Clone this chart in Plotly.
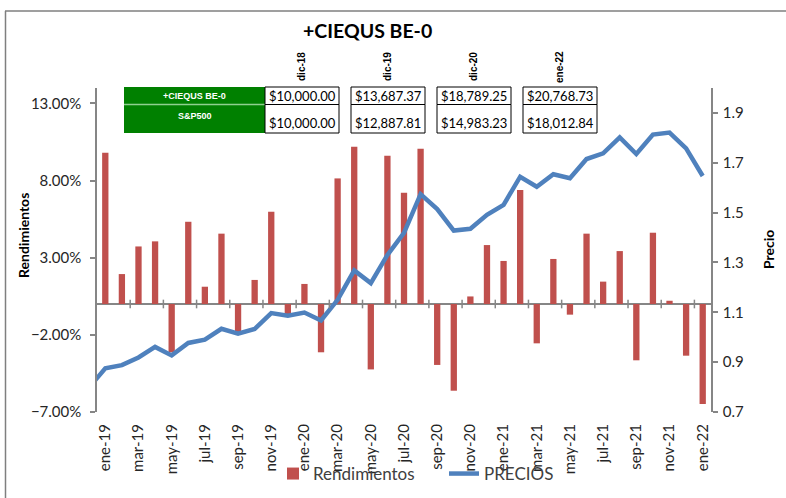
import plotly.graph_objects as go

# ---------------- data ----------------
months = ["ene-19", "feb-19", "mar-19", "abr-19", "may-19", "jun-19", "jul-19", "ago-19",
          "sep-19", "oct-19", "nov-19", "dic-19", "ene-20", "feb-20", "mar-20", "abr-20",
          "may-20", "jun-20", "jul-20", "ago-20", "sep-20", "oct-20", "nov-20", "dic-20",
          "ene-21", "feb-21", "mar-21", "abr-21", "may-21", "jun-21", "jul-21", "ago-21",
          "sep-21", "oct-21", "nov-21", "dic-21", "ene-22"]

rendimientos = [0.0980, 0.0194, 0.0373, 0.0406, -0.0313, 0.0533, 0.0112, 0.0456,
                -0.0184, 0.0156, 0.0598, -0.0065, 0.0130, -0.0313, 0.0814, 0.1020,
                -0.0424, 0.0961, 0.0721, 0.1006, -0.0395, -0.0562, 0.0049, 0.0382,
                0.0279, 0.0739, -0.0255, 0.0292, -0.0069, 0.0456, 0.0145, 0.0343,
                -0.0365, 0.0462, 0.0021, -0.0335, -0.0648]

precio_base_label = "dic-18"
precio_base = 0.797
precios = [0.875, 0.888, 0.919, 0.961, 0.927, 0.977, 0.990, 1.034,
           1.014, 1.033, 1.097, 1.086, 1.099, 1.067, 1.150, 1.268,
           1.217, 1.330, 1.419, 1.574, 1.514, 1.428, 1.435, 1.491,
           1.531, 1.644, 1.604, 1.654, 1.638, 1.715, 1.738, 1.802,
           1.735, 1.813, 1.821, 1.758, 1.647]

left_ticks = [-0.07, -0.02, 0.03, 0.08, 0.13]
right_ticks = [0.7, 0.9, 1.1, 1.3, 1.5, 1.7, 1.9]

table_headers = ["dic-18", "dic-19", "dic-20", "ene-22"]
table_rows = ["+CIEQUS BE-0", "S&P500"]
ciequs_vals = [10000.00, 13687.37, 18789.25, 20768.73]
sp500_vals = [10000.00, 12887.81, 14983.23, 18012.84]

# ---------------- layout geometry ----------------
W, H = 786, 498
L, R, T, B = 97, 75, 88, 86
PW, PH = W - L - R, H - T - B


def fx(p):
    return (p - L) / PW


def fy(p):
    return (H - B - p) / PH


def note(text, px, py, size, family="Lato", color="black", angle=0):
    return dict(text=text, xref="paper", yref="paper", x=fx(px), y=fy(py),
                xanchor="center", yanchor="middle", showarrow=False, textangle=angle,
                font=dict(family=family, size=size, color=color))


x_idx = list(range(len(months)))
tick_idx = x_idx[::2]
tick_txt = months[::2]

fig = go.Figure()
fig.add_trace(go.Bar(x=x_idx, y=rendimientos, name="Rendimientos",
                     marker=dict(color="#C0504D", line=dict(width=0))))
fig.add_trace(go.Scatter(x=[-1] + x_idx, y=[precio_base] + precios, name="PRECIOS",
                         yaxis="y2", mode="lines",
                         line=dict(color="#4F81BD", width=4.5)))

axis_gray = "#868686"
tick_font = dict(family="Lato", size=15, color="#262626")

fig.update_layout(
    width=W, height=H,
    margin=dict(l=L, r=R, t=T, b=B, pad=0, autoexpand=False),
    paper_bgcolor="white", plot_bgcolor="white",
    bargap=0.62,
    showlegend=True,
    legend=dict(orientation="h", x=fx(273), y=fy(474), xanchor="left", yanchor="middle",
                font=dict(family="Lato", size=17, color="#404040"),
                bgcolor="rgba(0,0,0,0)", itemwidth=30, tracegroupgap=0,
                entrywidth=126, entrywidthmode="pixels"),
    xaxis=dict(range=[-0.5, len(months) - 0.5], tickmode="array", tickvals=tick_idx,
               ticktext=tick_txt, tickangle=-90, showline=False, showgrid=False,
               zeroline=False, ticks="", tickfont=tick_font, ticklabelstandoff=8,
               automargin=False),
    yaxis=dict(range=[-0.07, 0.14], tickmode="array", tickvals=left_ticks,
               tickformat=".2%", showline=True, linecolor=axis_gray, linewidth=1.5,
               ticks="outside", ticklen=5, tickcolor=axis_gray, tickwidth=1.5,
               showgrid=False, zeroline=True, zerolinecolor=axis_gray, zerolinewidth=1.5,
               tickfont=tick_font, ticklabelstandoff=6, automargin=False),
    yaxis2=dict(range=[0.7, 2.0], overlaying="y", side="right", tickmode="array",
                tickvals=right_ticks, tickformat=".1f", showline=True, linecolor=axis_gray,
                linewidth=1.5, ticks="outside", ticklen=5, tickcolor=axis_gray, tickwidth=1.5,
                showgrid=False, zeroline=False, tickfont=tick_font, ticklabelstandoff=2,
                automargin=False),
)

shapes = []
annotations = []

# tick marks crossing the category (zero) axis, between category pairs
for k in range(1, len(months) - 1, 2):
    shapes.append(dict(type="line", xref="x", yref="y", x0=k + 0.5, x1=k + 0.5,
                       y0=-0.0028, y1=0.0028, line=dict(color=axis_gray, width=1.5)))

# chart frame (top and left edges)
shapes.append(dict(type="line", xref="paper", yref="paper", x0=fx(5), x1=fx(W + 2),
                   y0=fy(11), y1=fy(11), line=dict(color="#7f7f7f", width=1.5)))
shapes.append(dict(type="line", xref="paper", yref="paper", x0=fx(5.5), x1=fx(5.5),
                   y0=fy(11), y1=fy(H + 2), line=dict(color="#7f7f7f", width=1.5)))

# title and axis titles
annotations.append(note("<b>+CIEQUS BE-0</b>", 367, 30, 19.5))
annotations.append(note("<b>Rendimientos</b>", 23, 236, 14, angle=-90))
annotations.append(note("<b>Precio</b>", 768, 250, 14, angle=-90))

# table: green label cells
g_x0, g_x1 = 124, 265
r_top, r_mid, r_bot = 87, 104.5, 133
shapes.append(dict(type="rect", xref="paper", yref="paper", x0=fx(g_x0), x1=fx(g_x1),
                   y0=fy(r_bot), y1=fy(r_top), fillcolor="#008000", line=dict(width=0),
                   layer="above"))
shapes.append(dict(type="line", xref="paper", yref="paper", x0=fx(g_x0), x1=fx(g_x1),
                   y0=fy(r_mid), y1=fy(r_mid), line=dict(color="#8fd08f", width=1.5),
                   layer="above"))
annotations.append(note("<b>" + table_rows[0] + "</b>", (g_x0 + g_x1) / 2, 96, 9,
                        family="Liberation Sans", color="white"))
annotations.append(note("<b>" + table_rows[1] + "</b>", (g_x0 + g_x1) / 2, 116, 9,
                        family="Liberation Sans", color="white"))

# table: value cells
cell_x = [(265, 339), (351, 425), (437, 511), (523, 597)]
for (cx0, cx1), hdr, v1, v2 in zip(cell_x, table_headers, ciequs_vals, sp500_vals):
    for (ry0, ry1) in [(r_top, r_mid), (r_mid, r_bot)]:
        shapes.append(dict(type="rect", xref="paper", yref="paper", x0=fx(cx0), x1=fx(cx1),
                           y0=fy(ry1), y1=fy(ry0), fillcolor="white",
                           line=dict(color="black", width=1), layer="above"))
    cxm = (cx0 + cx1) / 2
    annotations.append(note("<b>" + hdr + "</b>", cxm, 67, 10, family="Liberation Sans",
                            angle=-90))
    annotations.append(note(f"${v1:,.2f}", cxm, 96, 13))
    annotations.append(note(f"${v2:,.2f}", cxm, 123, 13))

fig.update_layout(shapes=shapes, annotations=annotations)
fig.write_html("out.html", config={"displayModeBar": False},
               post_script="document.body.style.margin='0';")
